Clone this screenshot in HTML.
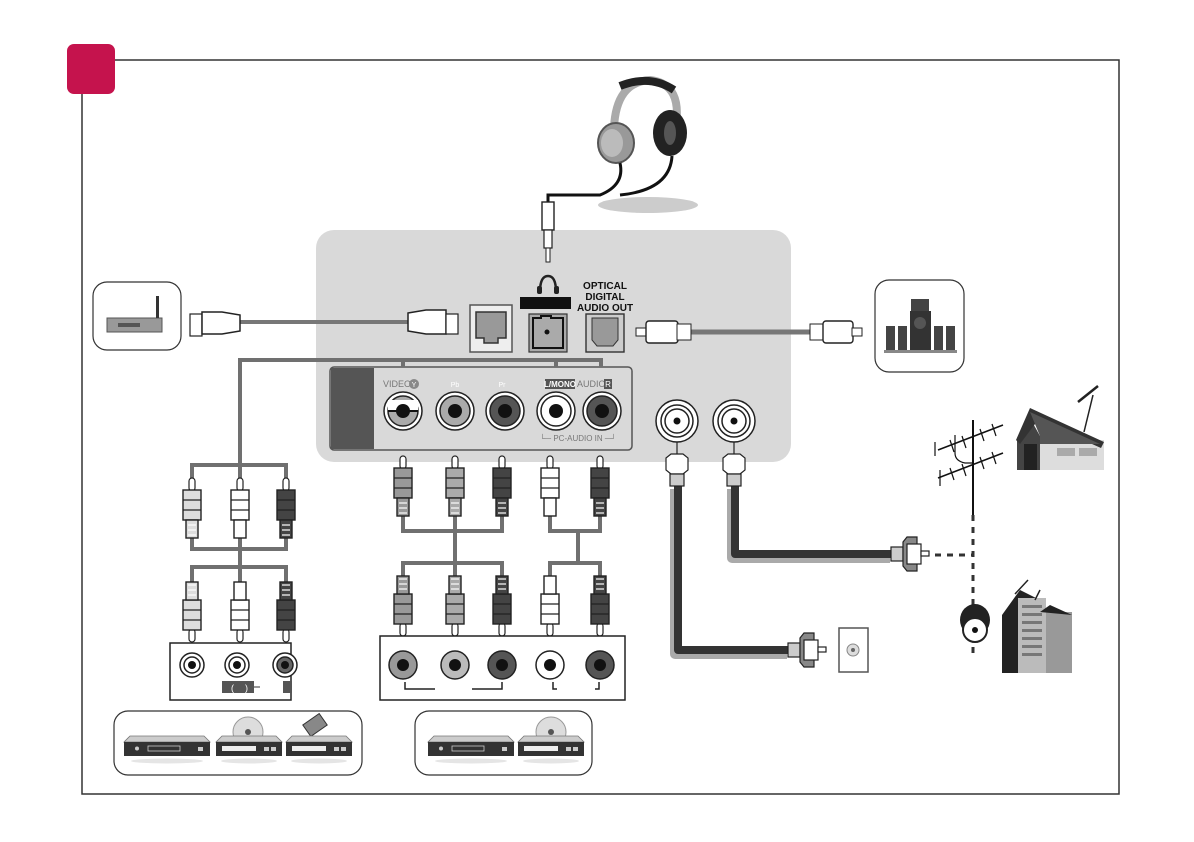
<!DOCTYPE html>
<html><head><meta charset="utf-8"><style>
html,body{margin:0;padding:0;background:#fff;}
svg{display:block;font-family:"Liberation Sans",Arial,sans-serif;}
</style></head><body>
<svg width="1194" height="842" viewBox="0 0 1194 842" xmlns="http://www.w3.org/2000/svg">
<defs>
 <g id="pu">
  <rect x="-3" y="0" width="6" height="13" rx="3" fill="#fff" stroke="#222" stroke-width="1.2"/>
  <rect x="-9" y="12" width="18" height="30" stroke="#222" stroke-width="1.4"/>
  <line x1="-9" y1="22" x2="9" y2="22" stroke="#222" stroke-width="1.2"/>
  <line x1="-9" y1="32" x2="9" y2="32" stroke="#222" stroke-width="1.2"/>
  <rect x="-6" y="42" width="12" height="18" stroke="#222" stroke-width="1.4"/>
  <line x1="-4" y1="47" x2="4" y2="47" stroke="#fff" stroke-width="1.2"/>
  <line x1="-4" y1="52" x2="4" y2="52" stroke="#fff" stroke-width="1.2"/>
  <line x1="-4" y1="57" x2="4" y2="57" stroke="#fff" stroke-width="1.2"/>
 </g>
 <g id="pd" transform="scale(1,-1)"><use href="#pu"/></g>
 <g id="dvd">
  <path d="M0 6 L6 0 L60 0 L66 6 Z" fill="#ccc" stroke="#777" stroke-width="0.8"/>
  <rect x="0" y="6" width="66" height="14" fill="#333"/>
  <rect x="6" y="10" width="34" height="5" fill="#eee"/>
  <rect x="48" y="11" width="5" height="4" fill="#ccc"/><rect x="55" y="11" width="5" height="4" fill="#ccc"/>
  <ellipse cx="33" cy="25" rx="28" ry="2.5" fill="#e5e5e5"/>
 </g>
 <g id="dvd2">
  <path d="M0 6 L6 0 L80 0 L86 6 Z" fill="#ccc" stroke="#777" stroke-width="0.8"/>
  <rect x="0" y="6" width="86" height="14" fill="#333"/>
  <rect x="24" y="10" width="32" height="5" fill="none" stroke="#ccc" stroke-width="0.8"/>
  <circle cx="13" cy="12.5" r="2" fill="#ccc"/>
  <rect x="74" y="11" width="5" height="4" fill="#ccc"/>
  <ellipse cx="43" cy="25" rx="36" ry="2.5" fill="#e5e5e5"/>
 </g>
</defs>

<!-- frame -->
<rect x="82" y="60" width="1037" height="734" fill="none" stroke="#333" stroke-width="1.5"/>
<rect x="67" y="44" width="48" height="50" rx="7" fill="#c5134d"/>

<!-- TV panel -->
<rect x="316" y="230" width="475" height="232" rx="18" fill="#d9d9d9"/>

<!-- headphones -->
<ellipse cx="648" cy="205" rx="50" ry="8" fill="#ccc"/>
<path d="M614 128 Q616 82 650 80 Q684 84 675 130" fill="none" stroke="#aaa" stroke-width="8"/>
<path d="M620 86 Q650 74 674 90" fill="none" stroke="#222" stroke-width="8"/>
<ellipse cx="616" cy="143" rx="18" ry="20" fill="#999" stroke="#555" stroke-width="2"/>
<ellipse cx="612" cy="143" rx="11" ry="14" fill="#bbb"/>
<ellipse cx="670" cy="133" rx="17" ry="23" fill="#222"/>
<ellipse cx="670" cy="133" rx="6" ry="12" fill="#555"/>
<path d="M620 163 Q625 185 600 195 L548 195 L548 205" fill="none" stroke="#111" stroke-width="3"/>
<path d="M672 156 Q670 190 620 195" fill="none" stroke="#111" stroke-width="3"/>
<rect x="542" y="202" width="12" height="28" fill="#fff" stroke="#222" stroke-width="1.4"/>
<rect x="544" y="230" width="8" height="18" fill="#fff" stroke="#222" stroke-width="1.2"/>
<rect x="546" y="248" width="4" height="14" fill="#fff" stroke="#222" stroke-width="1"/>

<!-- headphone icon & ports -->
<path d="M540 292 Q540 276 548 276 Q556 276 556 292" fill="none" stroke="#222" stroke-width="2.5"/>
<rect x="537" y="286" width="5" height="8" rx="2" fill="#222"/><rect x="554" y="286" width="5" height="8" rx="2" fill="#222"/>
<rect x="520" y="297" width="51" height="12" fill="#111"/>
<rect x="470" y="305" width="42" height="47" fill="#eee" stroke="#555" stroke-width="1.5"/>
<path d="M476 312 h30 v26 h-8 v5 h-14 v-5 h-8 z" fill="#999" stroke="#333" stroke-width="1.5"/>
<rect x="529" y="314" width="38" height="38" fill="#aaa" stroke="#333" stroke-width="1.2"/>
<path d="M533 318 h8 v-2 h10 v2 h12 v30 h-30 z" fill="none" stroke="#111" stroke-width="2"/>
<circle cx="547" cy="332" r="2.5" fill="#111"/>
<text x="605" y="289" font-size="10" font-weight="bold" text-anchor="middle" fill="#111">OPTICAL</text>
<text x="605" y="300" font-size="10" font-weight="bold" text-anchor="middle" fill="#111">DIGITAL</text>
<text x="605" y="311" font-size="10" font-weight="bold" text-anchor="middle" fill="#111">AUDIO OUT</text>
<rect x="586" y="314" width="38" height="38" fill="#ccc" stroke="#333" stroke-width="1.4"/>
<path d="M592 318 h26 v22 l-5 6 h-16 l-5 -6 z" fill="#999" stroke="#333" stroke-width="1"/>

<!-- LAN cable -->
<line x1="240" y1="322" x2="408" y2="322" stroke="#777" stroke-width="4"/>
<rect x="190" y="314" width="12" height="22" fill="#fff" stroke="#222" stroke-width="1.2"/>
<path d="M202 312 h20 l18 3 v16 l-18 3 h-20 z" fill="#fff" stroke="#222" stroke-width="1.5"/>
<path d="M408 313 l18 -3 h20 v24 h-20 l-18 -3 z" fill="#fff" stroke="#222" stroke-width="1.5"/>
<rect x="446" y="314" width="12" height="20" fill="#fff" stroke="#222" stroke-width="1.2"/>
<!-- router box -->
<rect x="93" y="282" width="88" height="68" rx="14" fill="#fff" stroke="#333" stroke-width="1.2"/>
<rect x="107" y="318" width="55" height="14" fill="#999" stroke="#555"/>
<rect x="156" y="296" width="3" height="22" fill="#333"/>
<rect x="118" y="323" width="22" height="4" fill="#555"/>
<!-- optical cable -->
<line x1="690" y1="332" x2="810" y2="332" stroke="#777" stroke-width="5"/>
<rect x="636" y="328" width="12" height="8" fill="#fff" stroke="#222"/>
<rect x="646" y="321" width="32" height="22" rx="3" fill="#fff" stroke="#222" stroke-width="1.4"/>
<rect x="677" y="324" width="14" height="16" fill="#fff" stroke="#222"/>
<rect x="810" y="324" width="14" height="16" fill="#fff" stroke="#222"/>
<rect x="823" y="321" width="30" height="22" rx="3" fill="#fff" stroke="#222" stroke-width="1.4"/>
<rect x="852" y="328" width="10" height="8" fill="#fff" stroke="#222"/>
<!-- speaker box -->
<rect x="875" y="280" width="89" height="92" rx="14" fill="#fff" stroke="#333" stroke-width="1.2"/>
<rect x="911" y="299" width="18" height="12" fill="#444"/>
<rect x="910" y="311" width="21" height="40" fill="#333"/>
<circle cx="920" cy="323" r="6" fill="#555"/>
<rect x="886" y="326" width="9" height="24" fill="#444"/><rect x="898" y="326" width="9" height="24" fill="#444"/>
<rect x="934" y="326" width="9" height="24" fill="#444"/><rect x="946" y="326" width="9" height="24" fill="#444"/>
<rect x="884" y="350" width="73" height="3" fill="#888"/>

<!-- AV panel -->
<rect x="330" y="367" width="302" height="83" rx="4" fill="#d9d9d9" stroke="#555" stroke-width="1.5"/>
<rect x="331" y="368" width="43" height="81" fill="#555"/>
<text x="383" y="387" font-size="9" fill="#777">VIDEO/</text>
<circle cx="414" cy="384" r="5" fill="#888"/><text x="414" y="387" font-size="7" fill="#fff" text-anchor="middle">Y</text>
<text x="455" y="387" font-size="7" fill="#fff" text-anchor="middle">Pb</text>
<text x="502" y="387" font-size="7" fill="#fff" text-anchor="middle">Pr</text>
<rect x="545" y="379" width="30" height="10" fill="#555"/><text x="560" y="387" font-size="8" fill="#fff" text-anchor="middle" font-weight="bold">L/MONO</text>
<text x="577" y="387" font-size="9" fill="#777">AUDIO</text>
<rect x="604" y="379" width="8" height="10" fill="#555"/><text x="608" y="387" font-size="8" fill="#fff" text-anchor="middle">R</text>
<g stroke="#222" stroke-width="1.5">
 <circle cx="403" cy="411" r="19" fill="#fff"/><circle cx="403" cy="411" r="15" fill="#aaa"/>
 <circle cx="455" cy="411" r="19" fill="#fff"/><circle cx="455" cy="411" r="15" fill="#aaa"/>
 <circle cx="505" cy="411" r="19" fill="#fff"/><circle cx="505" cy="411" r="15" fill="#555"/>
 <circle cx="556" cy="411" r="19" fill="#fff"/><circle cx="556" cy="411" r="15" fill="#fff"/>
 <circle cx="602" cy="411" r="19" fill="#fff"/><circle cx="602" cy="411" r="15" fill="#555"/>
</g>
<rect x="388" y="400" width="30" height="10" fill="#fff"/>
<g fill="#111"><circle cx="403" cy="411" r="7"/><circle cx="455" cy="411" r="7"/><circle cx="505" cy="411" r="7"/><circle cx="556" cy="411" r="7"/><circle cx="602" cy="411" r="7"/></g>
<line x1="388" y1="411" x2="418" y2="411" stroke="#111" stroke-width="2"/>
<text x="578" y="441" font-size="8" fill="#777" text-anchor="middle">└─ PC-AUDIO IN ─┘</text>
<!-- RF jacks -->
<g stroke="#222" stroke-width="1.5" fill="#fff">
 <circle cx="677" cy="421" r="21"/><circle cx="677" cy="421" r="16"/><circle cx="677" cy="421" r="12"/>
 <circle cx="734" cy="421" r="21"/><circle cx="734" cy="421" r="16"/><circle cx="734" cy="421" r="12"/>
</g>
<circle cx="677" cy="421" r="3.5" fill="#111"/><circle cx="734" cy="421" r="3.5" fill="#111"/>

<!-- gray wires top -->
<g fill="none" stroke="#707070" stroke-width="4">
 <path d="M240 465 V360 H601 V367"/>
 <line x1="403" y1="360" x2="403" y2="367"/><line x1="556" y1="360" x2="556" y2="367"/>
 <path d="M192 478 V465 H286 V478"/><line x1="240" y1="465" x2="240" y2="478"/>
 <path d="M192 538 V549 H286 V538"/><line x1="240" y1="538" x2="240" y2="582"/>
 <path d="M192 582 V567 H286 V582"/>
 <path d="M403 512 V531 H502 V512"/><line x1="455" y1="512" x2="455" y2="585"/>
 <path d="M403 585 V563 H502 V585"/>
 <path d="M550 512 V531 H600 V512"/><line x1="578" y1="531" x2="578" y2="563"/>
 <path d="M550 585 V563 H600 V585"/>
</g>
<!-- plugs -->
<use href="#pu" x="192" y="478" fill="#ddd"/>
<use href="#pu" x="240" y="478" fill="#fff"/>
<use href="#pu" x="286" y="478" fill="#444"/>
<use href="#pd" transform="translate(192,642)" fill="#ddd"/>
<use href="#pd" transform="translate(240,642)" fill="#fff"/>
<use href="#pd" transform="translate(286,642)" fill="#444"/>
<use href="#pu" x="403" y="456" fill="#999"/>
<use href="#pu" x="455" y="456" fill="#aaa"/>
<use href="#pu" x="502" y="456" fill="#444"/>
<use href="#pu" x="550" y="456" fill="#fff"/>
<use href="#pu" x="600" y="456" fill="#444"/>
<use href="#pd" transform="translate(403,636)" fill="#999"/>
<use href="#pd" transform="translate(455,636)" fill="#aaa"/>
<use href="#pd" transform="translate(502,636)" fill="#444"/>
<use href="#pd" transform="translate(550,636)" fill="#fff"/>
<use href="#pd" transform="translate(600,636)" fill="#444"/>

<!-- device boxes -->
<rect x="170" y="643" width="121" height="57" fill="#fff" stroke="#222" stroke-width="1.5"/>
<g stroke="#222" stroke-width="1.5">
 <circle cx="192" cy="665" r="12" fill="#fff"/><circle cx="192" cy="665" r="8" fill="#fff"/>
 <circle cx="237" cy="665" r="12" fill="#fff"/><circle cx="237" cy="665" r="8" fill="#fff"/>
 <circle cx="285" cy="665" r="12" fill="#fff"/><circle cx="285" cy="665" r="8" fill="#666"/>
</g>
<circle cx="192" cy="665" r="4" fill="#111"/><circle cx="237" cy="665" r="4" fill="#111"/><circle cx="285" cy="665" r="4" fill="#111"/>
<rect x="222" y="681" width="32" height="12" fill="#555"/><text x="231" y="691" font-size="9" fill="#fff">(</text><text x="245" y="691" font-size="9" fill="#fff">)</text>
<line x1="254" y1="687" x2="260" y2="687" stroke="#333"/>
<rect x="283" y="681" width="9" height="12" fill="#555"/>
<rect x="380" y="636" width="245" height="64" fill="#fff" stroke="#222" stroke-width="1.5"/>
<g stroke="#222" stroke-width="1.5">
 <circle cx="403" cy="665" r="14" fill="#999"/><circle cx="455" cy="665" r="14" fill="#bbb"/>
 <circle cx="502" cy="665" r="14" fill="#555"/><circle cx="550" cy="665" r="14" fill="#fff"/>
 <circle cx="600" cy="665" r="14" fill="#555"/>
</g>
<g fill="#111"><circle cx="403" cy="665" r="6"/><circle cx="455" cy="665" r="6"/><circle cx="502" cy="665" r="6"/><circle cx="550" cy="665" r="6"/><circle cx="600" cy="665" r="6"/></g>
<g fill="none" stroke="#222" stroke-width="1.5">
 <path d="M405 682 v7 h30"/><path d="M472 689 h30 v-7"/><path d="M553 682 v7 h4"/><path d="M599 682 v7 h-4"/>
</g>
<rect x="114" y="711" width="248" height="64" rx="14" fill="#fff" stroke="#333" stroke-width="1.2"/>
<use href="#dvd2" x="124" y="736"/>
<circle cx="248" cy="732" r="15" fill="#ddd" stroke="#999"/><circle cx="248" cy="732" r="3" fill="#555"/>
<use href="#dvd" x="216" y="736"/>
<rect x="305" y="718" width="20" height="14" fill="#888" stroke="#333" transform="rotate(-35 315 725)"/>
<use href="#dvd" x="286" y="736"/>
<rect x="415" y="711" width="177" height="64" rx="14" fill="#fff" stroke="#333" stroke-width="1.2"/>
<use href="#dvd2" x="428" y="736"/>
<circle cx="551" cy="732" r="15" fill="#ddd" stroke="#999"/><circle cx="551" cy="732" r="3" fill="#555"/>
<use href="#dvd" x="518" y="736"/>

<!-- RF cables -->
<g fill="none" stroke-linejoin="round">
 <path d="M678 485 V650 H790" stroke="#aaa" stroke-width="10" transform="translate(-3,4)"/>
 <path d="M678 485 V650 H790" stroke="#333" stroke-width="8"/>
 <path d="M735 485 V554 H893" stroke="#aaa" stroke-width="10" transform="translate(-3,4)"/>
 <path d="M735 485 V554 H893" stroke="#333" stroke-width="8"/>
</g>
<g stroke="#222" stroke-width="1.2">
 <line x1="677" y1="442" x2="677" y2="455"/><line x1="734" y1="442" x2="734" y2="455"/>
 <path d="M666 458 l5 -4 h12 l5 4 v12 l-5 4 h-12 l-5 -4 z" fill="#fff"/>
 <rect x="670" y="474" width="14" height="12" fill="#ccc"/>
 <path d="M723 458 l5 -4 h12 l5 4 v12 l-5 4 h-12 l-5 -4 z" fill="#fff"/>
 <rect x="727" y="474" width="14" height="12" fill="#ccc"/>
 <rect x="788" y="643" width="12" height="14" fill="#ccc"/>
 <path d="M800 638 l4 -5 h10 v34 h-10 l-4 -5 z" fill="#888"/>
 <rect x="804" y="640" width="14" height="20" fill="#fff"/>
 <rect x="818" y="647" width="8" height="5" fill="#fff"/>
 <rect x="891" y="547" width="12" height="14" fill="#ccc"/>
 <path d="M903 542 l4 -5 h10 v34 h-10 l-4 -5 z" fill="#888"/>
 <rect x="907" y="544" width="14" height="20" fill="#fff"/>
 <rect x="921" y="551" width="8" height="5" fill="#fff"/>
</g>
<!-- wall outlet -->
<rect x="839" y="628" width="29" height="44" fill="#fff" stroke="#555" stroke-width="1.5"/>
<circle cx="853" cy="650" r="6" fill="#ddd" stroke="#888"/><circle cx="853" cy="650" r="2" fill="#666"/>

<!-- antenna -->
<line x1="973" y1="420" x2="973" y2="515" stroke="#111" stroke-width="2"/>
<g stroke="#111" stroke-width="1.5">
 <line x1="938" y1="450" x2="1003" y2="425"/><line x1="938" y1="478" x2="1003" y2="453"/>
</g>
<g stroke="#111" stroke-width="1.2">
 <line x1="950" y1="440" x2="954" y2="452"/><line x1="962" y1="436" x2="966" y2="448"/><line x1="980" y1="429" x2="984" y2="441"/><line x1="992" y1="424" x2="996" y2="436"/>
 <line x1="950" y1="468" x2="954" y2="480"/><line x1="962" y1="464" x2="966" y2="476"/><line x1="980" y1="457" x2="984" y2="469"/><line x1="992" y1="452" x2="996" y2="464"/>
 <line x1="935" y1="442" x2="935" y2="456"/><line x1="940" y1="470" x2="940" y2="486"/>
</g>
<path d="M955 435 v18 q0 8 10 10 h8" fill="none" stroke="#111" stroke-width="1.2"/>
<line x1="973" y1="515" x2="973" y2="655" stroke="#333" stroke-width="3" stroke-dasharray="6,6"/>
<line x1="935" y1="555" x2="973" y2="555" stroke="#333" stroke-width="3" stroke-dasharray="6,6"/>
<ellipse cx="975" cy="620" rx="15" ry="16" fill="#222"/>
<circle cx="975" cy="630" r="12" fill="#fff" stroke="#222" stroke-width="2"/>
<circle cx="975" cy="630" r="3" fill="#111"/>
<!-- house -->
<polygon points="1040,440 1104,440 1104,470 1040,470" fill="#ddd"/>
<polygon points="1017,470 1017,438 1030,418 1040,436 1040,470" fill="#444"/>
<polygon points="1016,440 1030,408 1104,442 1101,448 1038,420 1020,444" fill="#333"/>
<polygon points="1030,412 1100,444 1040,444 1040,436" fill="#555"/>
<rect x="1024" y="444" width="13" height="26" fill="#222"/>
<rect x="1057" y="448" width="18" height="8" fill="#aaa"/>
<rect x="1079" y="448" width="18" height="8" fill="#aaa"/>
<line x1="1084" y1="432" x2="1093" y2="395" stroke="#222" stroke-width="1.5"/>
<line x1="1078" y1="402" x2="1098" y2="386" stroke="#222" stroke-width="2.5"/>
<!-- buildings -->
<path d="M1002 673 V615 L1020 590 L1040 600 V673 Z" fill="#222"/>
<rect x="1018" y="598" width="28" height="75" fill="#bbb"/>
<rect x="1046" y="612" width="26" height="61" fill="#999"/>
<path d="M1040 612 L1050 605 L1072 615" fill="#222"/>
<g fill="#777"><rect x="1022" y="605" width="20" height="3"/><rect x="1022" y="613" width="20" height="3"/><rect x="1022" y="621" width="20" height="3"/><rect x="1022" y="629" width="20" height="3"/><rect x="1022" y="637" width="20" height="3"/><rect x="1022" y="645" width="20" height="3"/><rect x="1022" y="653" width="20" height="3"/></g>
<g stroke="#222" stroke-width="1.5"><line x1="1015" y1="594" x2="1028" y2="580"/><line x1="1035" y1="600" x2="1040" y2="590"/></g>
</svg>
</body></html>
